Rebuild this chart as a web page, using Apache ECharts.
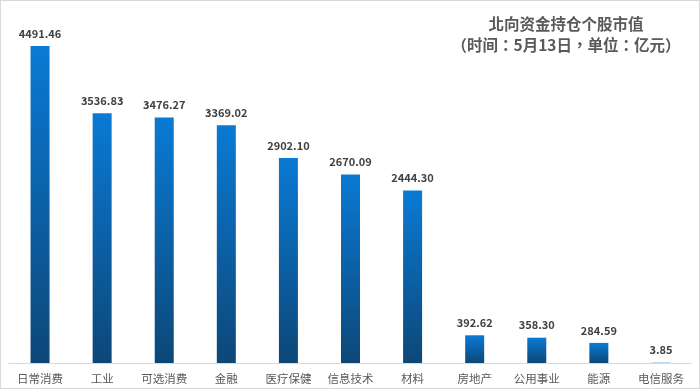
<!DOCTYPE html>
<html><head><meta charset="utf-8">
<script src="https://cdn.jsdelivr.net/npm/echarts@6/dist/echarts.min.js"></script>
<style>html,body{margin:0;padding:0;background:#fff}#c{width:698px;height:387px;border:1px solid #d9d9d9}</style>
</head><body><div id="c"></div>
<script>
var categories = ['日常消费','工业','可选消费','金融','医疗保健','信息技术','材料','房地产','公用事业','能源','电信服务'];
var values = [4491.46,3536.83,3476.27,3369.02,2902.10,2670.09,2444.30,392.62,358.30,284.59,3.85];
var titleLines = ['北向资金持仓个股市值','（时间：5月13日，单位：亿元）'];
var chart = echarts.init(document.getElementById('c'));
chart.setOption({
  animation:false,
  title:{text:titleLines[0]+'\n'+titleLines[1], left:560, top:8, textAlign:'center',
    textStyle:{fontSize:15.5,fontWeight:'bold',color:'#595959',lineHeight:21,fontFamily:'Noto Sans CJK TC',align:'center'}},
  grid:{left:8,right:7,top:9,bottom:25,containLabel:false},
  xAxis:{type:'category',data:categories,
    axisLine:{lineStyle:{color:'#d9d9d9'}},axisTick:{show:false},
    axisLabel:{color:'#595959',fontSize:11.5,fontFamily:'Noto Sans CJK SC',margin:10,interval:0}},
  yAxis:{type:'value',min:0,max:5000,show:false,splitLine:{show:false}},
  series:[{type:'bar',data:values,barWidth:19,
    itemStyle:{color:new echarts.graphic.LinearGradient(0,0,0,1,[{offset:0,color:'#0a7ad4'},{offset:1,color:'#0d4778'}])},
    label:{show:true,position:'top',distance:7,formatter:function(p){return p.value.toFixed(2);},
      color:'#404040',fontSize:11,fontWeight:'bold',fontFamily:'Noto Sans CJK SC'}}]
});
</script></body></html>
